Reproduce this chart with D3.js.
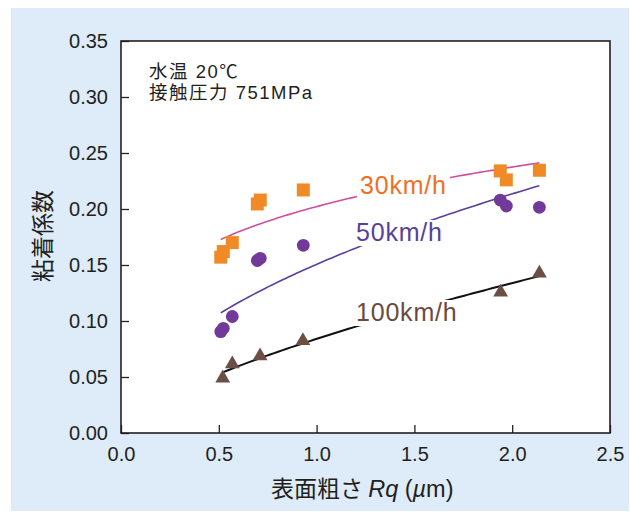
<!DOCTYPE html>
<html>
<head>
<meta charset="utf-8">
<script src="https://cdn.jsdelivr.net/npm/d3@7"></script>
<style>
  html, body { margin: 0; padding: 0; background: #ffffff; }
  svg { display: block; }
  text { font-family: "Liberation Sans", Arial, "Noto Sans CJK JP", sans-serif; }
  .cjk { font-family: "Noto Sans CJK JP", "Liberation Sans", sans-serif; }
</style>
</head>
<body>
<svg id="chart" width="630" height="517"></svg>
<script>
// Surface roughness Rq (µm) of each specimen
const roughness = [0.51, 0.523, 0.569, 0.697, 0.712, 0.932, 1.939, 1.97, 2.139];
// Adhesion coefficient at 30 km/h
const adhesion30 = [0.157, 0.162, 0.170, 0.2045, 0.208, 0.217, 0.234, 0.226, 0.2346];
// Adhesion coefficient at 50 km/h
const adhesion50 = [0.0905, 0.0935, 0.104, 0.154, 0.156, 0.1676, 0.208, 0.2027, 0.2015];
// Specimens measured at 100 km/h
const roughness100 = [0.52, 0.569, 0.711, 0.93, 1.941, 2.139];
const adhesion100 = [0.049, 0.0616, 0.0688, 0.0824, 0.1256, 0.1426];

const xTicks = [0.0, 0.5, 1.0, 1.5, 2.0, 2.5];
const yTicks = [0.00, 0.05, 0.10, 0.15, 0.20, 0.25, 0.30, 0.35];
const seriesLabels = ["30km/h", "50km/h", "100km/h"];
const conditionLines = ["水温 20℃", "接触圧力 751MPa"];

const svg = d3.select("#chart");
const m = { left: 121, right: 610, top: 41, bottom: 433 };

// light blue panel
svg.append("rect").attr("x", 11).attr("y", 8).attr("width", 618).attr("height", 503)
  .attr("fill", "#deebf8");

const x = d3.scaleLinear().domain([0, 2.5]).range([m.left, m.right]);
const y = d3.scaleLinear().domain([0, 0.35]).range([m.bottom, m.top]);

// plot area
svg.append("rect").attr("x", m.left).attr("y", m.top)
  .attr("width", m.right - m.left).attr("height", m.bottom - m.top)
  .attr("fill", "#ffffff");

// axes with inward ticks
const yAxis = d3.axisLeft(y).tickValues(yTicks).tickFormat(d3.format(".2f"))
  .tickSizeInner(-8).tickSizeOuter(0).tickPadding(13);
const xAxis = d3.axisBottom(x).tickValues(xTicks).tickFormat(d3.format(".1f"))
  .tickSizeInner(-8).tickSizeOuter(0).tickPadding(14);

const gy = svg.append("g").attr("transform", `translate(${m.left},0)`).call(yAxis);
const gx = svg.append("g").attr("transform", `translate(0,${m.bottom})`).call(xAxis);
[gx, gy].forEach(g => {
  g.selectAll("text").attr("font-size", 20).attr("fill", "#231f20")
    .style("font-family", "'Liberation Sans', Arial, sans-serif");
  g.selectAll("line").attr("stroke", "#231f20").attr("stroke-width", 1.3);
  g.select(".domain").remove();
});

// frame
svg.append("rect").attr("x", m.left).attr("y", m.top)
  .attr("width", m.right - m.left).attr("height", m.bottom - m.top)
  .attr("fill", "none").attr("stroke", "#231f20").attr("stroke-width", 1.6);

// power-law fit y = a·x^b by least squares in log-log space
function powerFit(xs, ys) {
  const lx = xs.map(Math.log), ly = ys.map(Math.log);
  const mx = d3.mean(lx), my = d3.mean(ly);
  let sxy = 0, sxx = 0;
  lx.forEach((v, i) => { sxy += (v - mx) * (ly[i] - my); sxx += (v - mx) ** 2; });
  const b = sxy / sxx;
  const a = Math.exp(my - b * mx);
  return t => a * Math.pow(t, b);
}

const line = d3.line().x(d => x(d[0])).y(d => y(d[1]));

function drawFit(xs, ys, color, width) {
  const f = powerFit(xs, ys);
  const [lo, hi] = d3.extent(xs);
  const pts = d3.range(0, 81).map(i => { const t = lo + (hi - lo) * i / 80; return [t, f(t)]; });
  svg.append("path").datum(pts).attr("d", line)
    .attr("fill", "none").attr("stroke", color).attr("stroke-width", width);
}

drawFit(roughness, adhesion30, "#cf4f9c", 1.6);
drawFit(roughness, adhesion50, "#5a3f9e", 1.6);
drawFit(roughness100, adhesion100, "#111111", 2);

// series labels on white boxes
function seriesLabel(txt, px, py, color) {
  const g = svg.append("g");
  const t = g.append("text").attr("x", px).attr("y", py).text(txt)
    .attr("font-size", 25).attr("fill", color).attr("letter-spacing", 0.8);
  const bb = t.node().getBBox();
  g.insert("rect", "text").attr("x", bb.x - 3).attr("y", bb.y + 2)
    .attr("width", bb.width + 6).attr("height", bb.height - 2).attr("fill", "#ffffff");
}
seriesLabel(seriesLabels[0], 360, 194, "#ee7023");
seriesLabel(seriesLabels[1], 356, 241, "#583f9c");
seriesLabel(seriesLabels[2], 356, 321, "#6b4a40");

// markers
svg.append("g").selectAll("rect").data(roughness.map((r, i) => [r, adhesion30[i]]))
  .join("rect")
  .attr("x", d => x(d[0]) - 6.5).attr("y", d => y(d[1]) - 6.5)
  .attr("width", 13).attr("height", 13).attr("fill", "#f08a26");

svg.append("g").selectAll("circle").data(roughness.map((r, i) => [r, adhesion50[i]]))
  .join("circle")
  .attr("cx", d => x(d[0])).attr("cy", d => y(d[1])).attr("r", 6.4)
  .attr("fill", "#71399a");

const tri = d3.symbol().type(d3.symbolTriangle).size(95);
svg.append("g").selectAll("path").data(roughness100.map((r, i) => [r, adhesion100[i]]))
  .join("path")
  .attr("d", tri)
  .attr("transform", d => `translate(${x(d[0])},${y(d[1])})`)
  .attr("fill", "#6b4f46");

// test conditions
svg.append("g").selectAll("text").data(conditionLines).join("text")
  .attr("x", 149).attr("y", (d, i) => 77.7 + i * 21.5)
  .attr("font-size", 18.5).attr("letter-spacing", 1.5).attr("fill", "#231f20")
  .text(d => d);

// axis titles
svg.append("text").attr("class", "cjk")
  .attr("transform", `translate(51,236) rotate(-90)`)
  .attr("text-anchor", "middle").attr("font-size", 23).attr("fill", "#231f20")
  .text("粘着係数");

const xt = svg.append("text").attr("x", 271).attr("y", 497)
  .attr("font-size", 23.5).attr("fill", "#231f20");
xt.append("tspan").attr("class", "cjk").attr("font-size", 23).text("表面粗さ ");
xt.append("tspan").attr("font-style", "italic").text("Rq");
xt.append("tspan").text(" (");
xt.append("tspan").attr("font-style", "italic").text("µ");
xt.append("tspan").text("m)");
</script>
</body>
</html>
